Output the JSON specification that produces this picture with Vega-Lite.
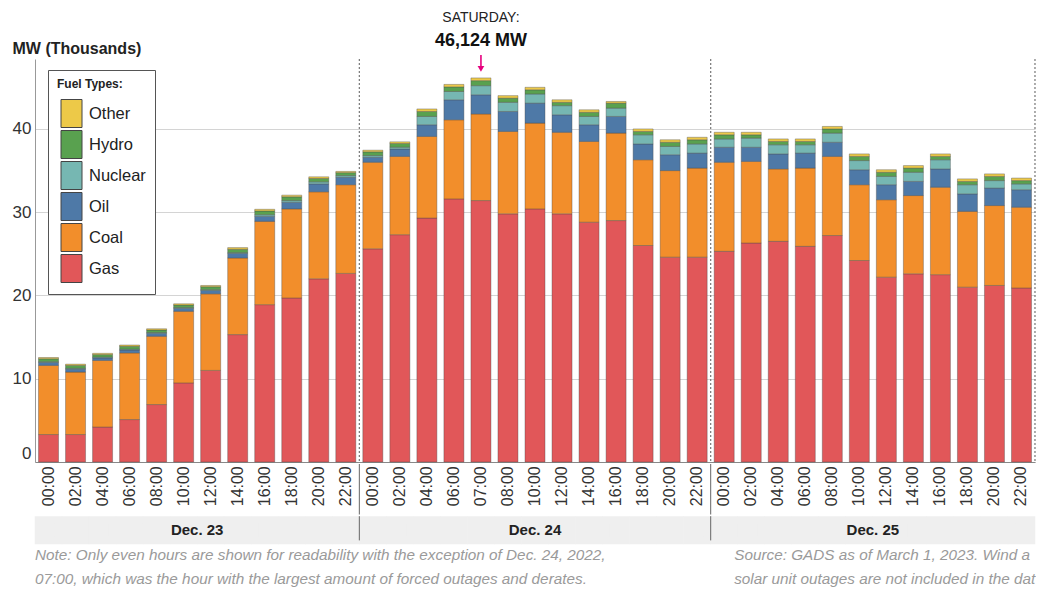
{
  "$schema": "https://vega.github.io/schema/vega-lite/v6.json",
  "background": "white",
  "padding": {"left": 12, "top": 10, "right": 0, "bottom": 0},
  "spacing": 0,
  "resolve": {"scale": {"x": "shared"}},
  "datasets": {
    "fuel": [
      {"day": "Dec. 23", "hour": "00:00", "Gas": 3.3, "Coal": 8.3, "Oil": 0.35, "Nuclear": 0.1, "Hydro": 0.35, "Other": 0.15},
      {"day": "Dec. 23", "hour": "02:00", "Gas": 3.3, "Coal": 7.5, "Oil": 0.35, "Nuclear": 0.1, "Hydro": 0.35, "Other": 0.15},
      {"day": "Dec. 23", "hour": "04:00", "Gas": 4.2, "Coal": 8.0, "Oil": 0.3, "Nuclear": 0.1, "Hydro": 0.3, "Other": 0.15},
      {"day": "Dec. 23", "hour": "06:00", "Gas": 5.1, "Coal": 8.0, "Oil": 0.35, "Nuclear": 0.1, "Hydro": 0.35, "Other": 0.15},
      {"day": "Dec. 23", "hour": "08:00", "Gas": 6.9, "Coal": 8.2, "Oil": 0.35, "Nuclear": 0.1, "Hydro": 0.3, "Other": 0.15},
      {"day": "Dec. 23", "hour": "10:00", "Gas": 9.5, "Coal": 8.6, "Oil": 0.35, "Nuclear": 0.1, "Hydro": 0.3, "Other": 0.15},
      {"day": "Dec. 23", "hour": "12:00", "Gas": 11.0, "Coal": 9.2, "Oil": 0.4, "Nuclear": 0.1, "Hydro": 0.35, "Other": 0.15},
      {"day": "Dec. 23", "hour": "14:00", "Gas": 15.3, "Coal": 9.2, "Oil": 0.55, "Nuclear": 0.1, "Hydro": 0.4, "Other": 0.2},
      {"day": "Dec. 23", "hour": "16:00", "Gas": 18.9, "Coal": 10.0, "Oil": 0.6, "Nuclear": 0.2, "Hydro": 0.45, "Other": 0.2},
      {"day": "Dec. 23", "hour": "18:00", "Gas": 19.7, "Coal": 10.7, "Oil": 0.8, "Nuclear": 0.2, "Hydro": 0.45, "Other": 0.2},
      {"day": "Dec. 23", "hour": "20:00", "Gas": 22.0, "Coal": 10.45, "Oil": 0.95, "Nuclear": 0.25, "Hydro": 0.4, "Other": 0.2},
      {"day": "Dec. 23", "hour": "22:00", "Gas": 22.65, "Coal": 10.65, "Oil": 0.9, "Nuclear": 0.2, "Hydro": 0.35, "Other": 0.15},
      {"day": "Dec. 24", "hour": "00:00", "Gas": 25.6, "Coal": 10.4, "Oil": 0.6, "Nuclear": 0.2, "Hydro": 0.45, "Other": 0.2},
      {"day": "Dec. 24", "hour": "02:00", "Gas": 27.3, "Coal": 9.4, "Oil": 0.9, "Nuclear": 0.2, "Hydro": 0.45, "Other": 0.2},
      {"day": "Dec. 24", "hour": "04:00", "Gas": 29.3, "Coal": 9.8, "Oil": 1.4, "Nuclear": 1.0, "Hydro": 0.6, "Other": 0.3},
      {"day": "Dec. 24", "hour": "06:00", "Gas": 31.6, "Coal": 9.5, "Oil": 2.4, "Nuclear": 1.0, "Hydro": 0.55, "Other": 0.3},
      {"day": "Dec. 24", "hour": "07:00", "Gas": 31.4, "Coal": 10.4, "Oil": 2.3, "Nuclear": 1.1, "Hydro": 0.6, "Other": 0.324},
      {"day": "Dec. 24", "hour": "08:00", "Gas": 29.8, "Coal": 9.9, "Oil": 2.4, "Nuclear": 1.1, "Hydro": 0.5, "Other": 0.3},
      {"day": "Dec. 24", "hour": "10:00", "Gas": 30.4, "Coal": 10.3, "Oil": 2.4, "Nuclear": 1.1, "Hydro": 0.5, "Other": 0.3},
      {"day": "Dec. 24", "hour": "12:00", "Gas": 29.8, "Coal": 9.8, "Oil": 2.1, "Nuclear": 1.1, "Hydro": 0.4, "Other": 0.3},
      {"day": "Dec. 24", "hour": "14:00", "Gas": 28.8, "Coal": 9.7, "Oil": 2.0, "Nuclear": 1.0, "Hydro": 0.5, "Other": 0.3},
      {"day": "Dec. 24", "hour": "16:00", "Gas": 29.0, "Coal": 10.5, "Oil": 2.0, "Nuclear": 1.0, "Hydro": 0.6, "Other": 0.2},
      {"day": "Dec. 24", "hour": "18:00", "Gas": 26.0, "Coal": 10.3, "Oil": 1.9, "Nuclear": 1.1, "Hydro": 0.4, "Other": 0.3},
      {"day": "Dec. 24", "hour": "20:00", "Gas": 24.6, "Coal": 10.4, "Oil": 1.9, "Nuclear": 1.0, "Hydro": 0.5, "Other": 0.3},
      {"day": "Dec. 24", "hour": "22:00", "Gas": 24.6, "Coal": 10.7, "Oil": 1.8, "Nuclear": 1.1, "Hydro": 0.5, "Other": 0.3},
      {"day": "Dec. 25", "hour": "00:00", "Gas": 25.3, "Coal": 10.7, "Oil": 1.8, "Nuclear": 1.0, "Hydro": 0.5, "Other": 0.3},
      {"day": "Dec. 25", "hour": "02:00", "Gas": 26.3, "Coal": 9.8, "Oil": 1.7, "Nuclear": 1.1, "Hydro": 0.4, "Other": 0.3},
      {"day": "Dec. 25", "hour": "04:00", "Gas": 26.5, "Coal": 8.7, "Oil": 1.8, "Nuclear": 1.1, "Hydro": 0.4, "Other": 0.3},
      {"day": "Dec. 25", "hour": "06:00", "Gas": 25.9, "Coal": 9.4, "Oil": 1.8, "Nuclear": 1.0, "Hydro": 0.4, "Other": 0.3},
      {"day": "Dec. 25", "hour": "08:00", "Gas": 27.2, "Coal": 9.5, "Oil": 1.7, "Nuclear": 1.1, "Hydro": 0.5, "Other": 0.3},
      {"day": "Dec. 25", "hour": "10:00", "Gas": 24.2, "Coal": 9.1, "Oil": 1.8, "Nuclear": 1.1, "Hydro": 0.5, "Other": 0.3},
      {"day": "Dec. 25", "hour": "12:00", "Gas": 22.2, "Coal": 9.3, "Oil": 1.8, "Nuclear": 1.0, "Hydro": 0.5, "Other": 0.3},
      {"day": "Dec. 25", "hour": "14:00", "Gas": 22.6, "Coal": 9.4, "Oil": 1.7, "Nuclear": 1.1, "Hydro": 0.5, "Other": 0.3},
      {"day": "Dec. 25", "hour": "16:00", "Gas": 22.5, "Coal": 10.5, "Oil": 2.2, "Nuclear": 1.1, "Hydro": 0.4, "Other": 0.3},
      {"day": "Dec. 25", "hour": "18:00", "Gas": 21.0, "Coal": 9.1, "Oil": 2.1, "Nuclear": 1.1, "Hydro": 0.4, "Other": 0.3},
      {"day": "Dec. 25", "hour": "20:00", "Gas": 21.2, "Coal": 9.6, "Oil": 2.1, "Nuclear": 0.9, "Hydro": 0.5, "Other": 0.3},
      {"day": "Dec. 25", "hour": "22:00", "Gas": 20.9, "Coal": 9.7, "Oil": 2.1, "Nuclear": 0.7, "Hydro": 0.4, "Other": 0.3}
    ]
  },
  "vconcat": [
    {
      "width": 1000,
      "height": 403,
      "data": {"name": "fuel"},
      "transform": [{"calculate": "datum.day + ' ' + datum.hour", "as": "key"}],
      "layer": [
        {
          "transform": [
            {"fold": ["Gas", "Coal", "Oil", "Nuclear", "Hydro", "Other"], "as": ["fuel", "mw"]},
            {"calculate": "indexof(['Gas','Coal','Oil','Nuclear','Hydro','Other'], datum.fuel)", "as": "ord"}
          ],
          "mark": {"type": "bar", "stroke": "#4a4a4a", "strokeWidth": 0.7, "strokeOpacity": 0.55},
          "encoding": {
            "x": {
              "field": "key", "type": "ordinal", "title": null,
              "scale": {"paddingInner": 0.26, "paddingOuter": 0.13},
              "axis": {"labels": false, "ticks": false, "title": null, "domainColor": "#888", "grid": false}
            },
            "y": {
              "field": "mw", "type": "quantitative", "stack": "zero", "title": "MW (Thousands)",
              "scale": {"domain": [0, 48.4], "nice": false},
              "axis": {
                "values": [0, 10, 20, 30, 40],
                "grid": true, "gridColor": "#d4d4d4", "gridWidth": 1,
                "ticks": false, "domainColor": "#999",
                "labelFontSize": 17, "labelColor": "#333", "labelPadding": 4, "labelFlush": true,
                "title": "MW (Thousands)", "titleAngle": 0, "titleAlign": "left", "titleBaseline": "middle",
                "titleX": -23, "titleY": -11, "titleFontSize": 16, "titleFontWeight": "bold", "titleColor": "#222"
              }
            },
            "color": {
              "field": "fuel", "type": "nominal",
              "scale": {
                "domain": ["Other", "Hydro", "Nuclear", "Oil", "Coal", "Gas"],
                "range": ["#edc948", "#59a14f", "#76b7b2", "#4e79a7", "#f28e2b", "#e15759"]
              },
              "legend": {
                "orient": "none", "legendX": 13, "legendY": 11,
                "title": "Fuel Types:", "titleFontSize": 12, "titleFontWeight": "bold", "titleColor": "#222", "titlePadding": 8,
                "fillColor": "white", "strokeColor": "#555", "padding": 9,
                "symbolType": "M-0.75,-1H0.75V1H-0.75Z", "symbolSize": 784,
                "symbolStrokeColor": "#444", "symbolStrokeWidth": 1, "symbolOpacity": 1,
                "rowPadding": -5, "labelOffset": 3, "labelFontSize": 16.5, "labelColor": "#222"
              }
            },
            "order": {"field": "ord", "type": "quantitative"}
          }
        },
        {
          "transform": [{"filter": "datum.hour == '00:00' && datum.day != 'Dec. 23'"}],
          "mark": {"type": "rule", "color": "#777", "strokeWidth": 1.2, "strokeDash": [2, 2], "xOffset": -3.5},
          "encoding": {"x": {"field": "key", "type": "ordinal", "bandPosition": 0, "title": null}}
        },
        {
          "transform": [{"filter": "datum.hour == '22:00' && datum.day == 'Dec. 25'"}],
          "mark": {"type": "rule", "color": "#777", "strokeWidth": 1.2, "strokeDash": [2, 2], "xOffset": 3.5},
          "encoding": {"x": {"field": "key", "type": "ordinal", "bandPosition": 1, "title": null}}
        },
        {
          "transform": [
            {"filter": "datum.day == 'Dec. 24' && datum.hour == '07:00'"},
            {"calculate": "datum.Gas + datum.Coal + datum.Oil + datum.Nuclear + datum.Hydro + datum.Other", "as": "total"}
          ],
          "layer": [
            {
              "mark": {"type": "text", "text": "SATURDAY:", "fontSize": 14, "color": "#222", "baseline": "middle", "align": "center", "dy": -60},
              "encoding": {
                "x": {"field": "key", "type": "ordinal", "title": null},
                "y": {"field": "total", "type": "quantitative", "title": "MW (Thousands)"}
              }
            },
            {
              "mark": {"type": "text", "text": "46,124 MW", "fontSize": 18, "fontWeight": "bold", "color": "#111", "baseline": "middle", "align": "center", "dy": -37},
              "encoding": {
                "x": {"field": "key", "type": "ordinal", "title": null},
                "y": {"field": "total", "type": "quantitative", "title": "MW (Thousands)"}
              }
            },
            {
              "mark": {"type": "rule", "color": "#e6007e", "strokeWidth": 1.6, "yOffset": -23, "y2Offset": -12},
              "encoding": {
                "x": {"field": "key", "type": "ordinal", "title": null},
                "y": {"field": "total", "type": "quantitative", "title": "MW (Thousands)"},
                "y2": {"field": "total"}
              }
            },
            {
              "mark": {"type": "point", "shape": "triangle-down", "filled": true, "color": "#e6007e", "size": 45, "opacity": 1, "yOffset": -9},
              "encoding": {
                "x": {"field": "key", "type": "ordinal", "title": null},
                "y": {"field": "total", "type": "quantitative", "title": "MW (Thousands)"}
              }
            }
          ]
        }
      ]
    },
    {
      "width": 1000,
      "height": 50.5,
      "data": {"name": "fuel"},
      "transform": [{"calculate": "datum.day + ' ' + datum.hour", "as": "key"}],
      "layer": [
        {
          "mark": {"type": "text", "angle": 270, "fontSize": 16, "color": "#333", "baseline": "middle", "align": "center", "dx": 3},
          "encoding": {
            "x": {"field": "key", "type": "ordinal", "axis": null},
            "text": {"field": "hour"}
          }
        },
        {
          "transform": [{"filter": "datum.hour == '00:00' && datum.day != 'Dec. 23'"}],
          "mark": {"type": "rule", "color": "#666", "strokeWidth": 1, "xOffset": -3.5},
          "encoding": {"x": {"field": "key", "type": "ordinal", "bandPosition": 0, "axis": null}}
        }
      ]
    },
    {
      "width": 1000,
      "height": 20.4,
      "data": {"name": "fuel"},
      "transform": [{"calculate": "datum.day + ' ' + datum.hour", "as": "key"}],
      "layer": [
        {
          "mark": {"type": "bar", "color": "#efefef", "stroke": "#efefef", "strokeWidth": 7.6},
          "encoding": {"x": {"field": "key", "type": "ordinal", "axis": null}}
        },
        {
          "transform": [{"filter": "datum.hour == '00:00' && datum.day != 'Dec. 23'"}],
          "mark": {"type": "rule", "color": "#666", "strokeWidth": 1, "xOffset": -3.5, "yOffset": -3.8, "y2Offset": 3.8},
          "encoding": {"x": {"field": "key", "type": "ordinal", "bandPosition": 0, "axis": null}}
        },
        {
          "transform": [{"filter": "datum.day != 'Dec. 24' && datum.hour == '12:00'"}],
          "mark": {"type": "text", "fontSize": 15, "fontWeight": "bold", "color": "#222", "baseline": "middle", "align": "center", "xOffset": -3.5},
          "encoding": {
            "x": {"field": "key", "type": "ordinal", "bandPosition": 0, "axis": null},
            "text": {"field": "day"}
          }
        },
        {
          "transform": [{"filter": "datum.day == 'Dec. 24' && datum.hour == '10:00'"}],
          "mark": {"type": "text", "fontSize": 15, "fontWeight": "bold", "color": "#222", "baseline": "middle", "align": "center"},
          "encoding": {
            "x": {"field": "key", "type": "ordinal", "axis": null},
            "text": {"field": "day"}
          }
        },
        {
          "transform": [{"filter": "datum.day == 'Dec. 23' && datum.hour == '00:00'"}],
          "mark": {"type": "text", "align": "left", "baseline": "top", "dy": 18, "xOffset": -3.5, "fontSize": 15.3, "fontStyle": "italic", "color": "#9a9a9a", "lineHeight": 24},
          "encoding": {
            "x": {"field": "key", "type": "ordinal", "bandPosition": 0, "axis": null},
            "text": {"value": ["Note: Only even hours are shown for readability with the exception of Dec. 24, 2022,", "07:00, which was the hour with the largest amount of forced outages and derates."]}
          }
        },
        {
          "transform": [{"filter": "datum.day == 'Dec. 25' && datum.hour == '00:00'"}],
          "mark": {"type": "text", "align": "left", "baseline": "top", "dy": 18, "fontSize": 15.3, "fontStyle": "italic", "color": "#9a9a9a", "lineHeight": 24, "limit": 303, "ellipsis": "\u200b"},
          "encoding": {
            "x": {"field": "key", "type": "ordinal", "bandPosition": 1, "axis": null},
            "text": {"value": ["Source: GADS  as of March 1, 2023. Wind and", "solar unit outages are not included in the data."]}
          }
        }
      ]
    }
  ],
  "config": {
    "view": {"stroke": null},
    "font": "Liberation Sans"
  }
}
